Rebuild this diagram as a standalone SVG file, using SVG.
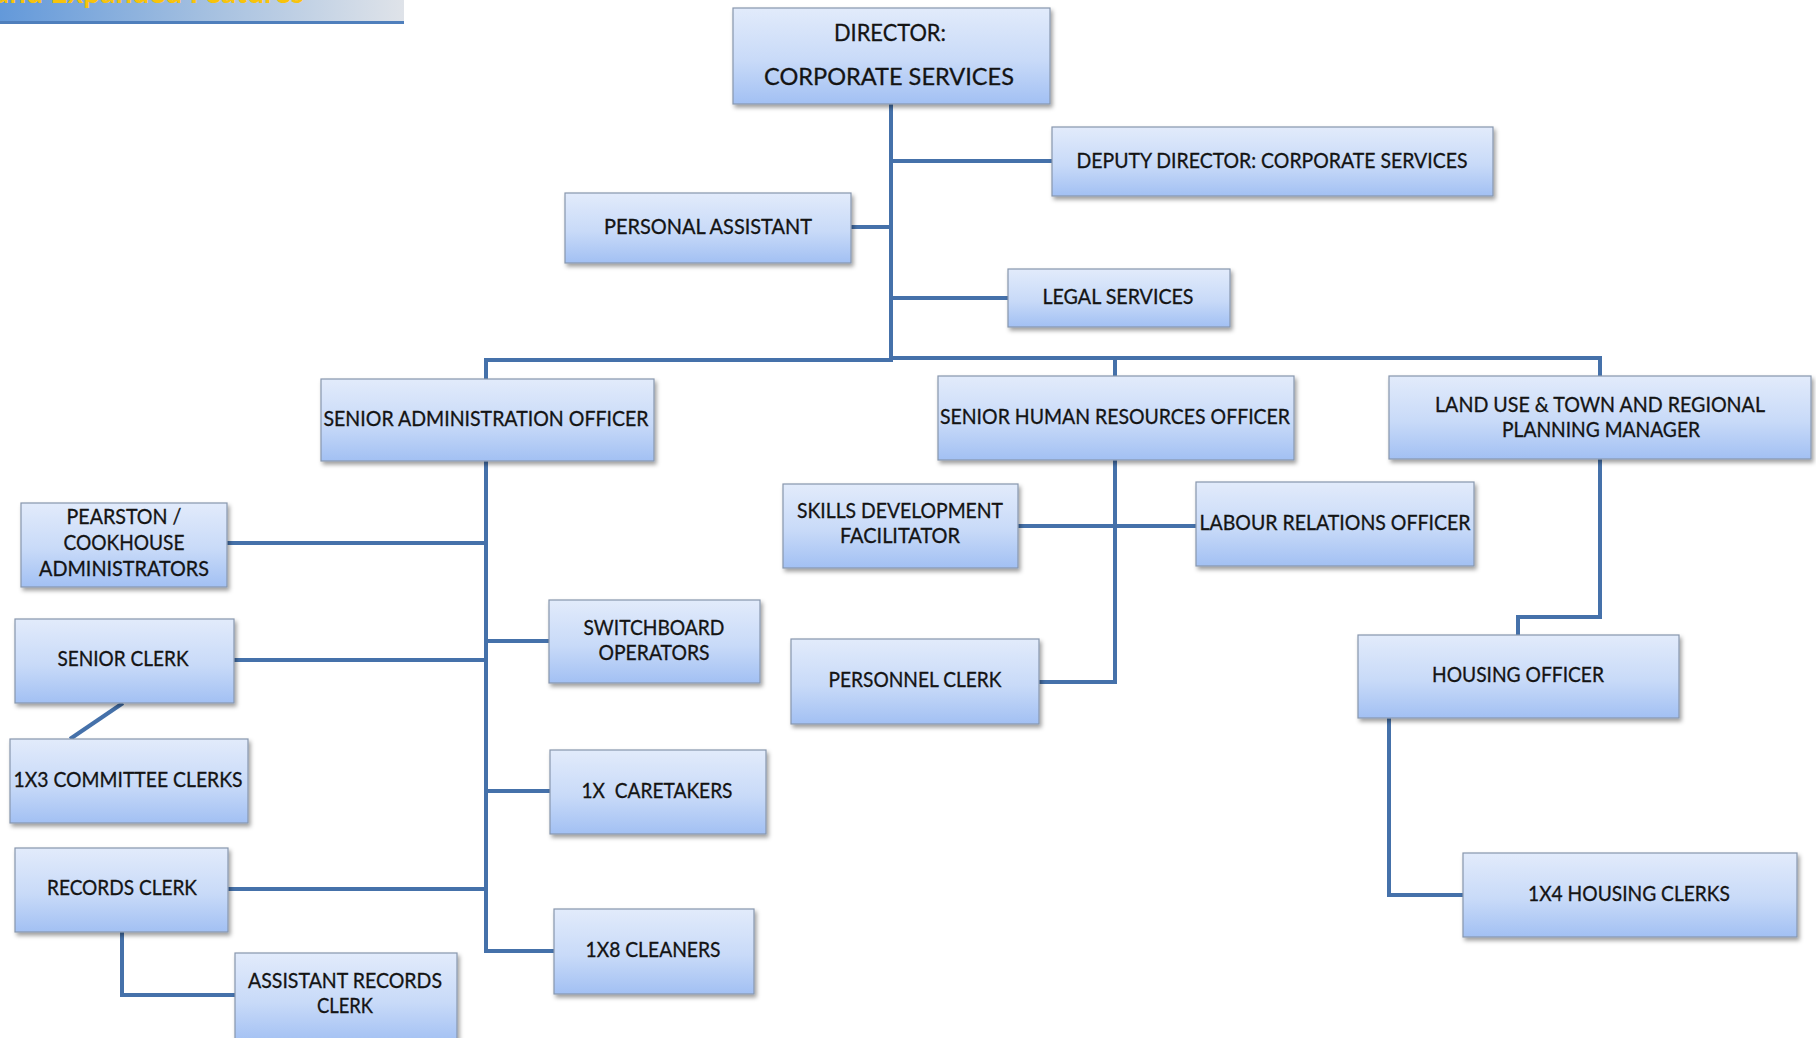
<svg xmlns="http://www.w3.org/2000/svg" width="1816" height="1038" viewBox="0 0 1816 1038">
  <defs>
    <linearGradient id="boxFill" x1="0" y1="0" x2="0" y2="1">
      <stop offset="0" stop-color="#e2ebfb"/>
      <stop offset="0.55" stop-color="#c8daf8"/>
      <stop offset="1" stop-color="#a2c0f3"/>
    </linearGradient>
    <linearGradient id="bannerFill" x1="0" y1="0" x2="1" y2="0">
      <stop offset="0" stop-color="#6399da"/>
      <stop offset="0.5" stop-color="#a3bfe0"/>
      <stop offset="1" stop-color="#dfe3e9"/>
    </linearGradient>
    <filter id="shadow" x="-10%" y="-10%" width="125%" height="130%">
      <feDropShadow dx="2" dy="3" stdDeviation="2.2" flood-color="#000" flood-opacity="0.38"/>
    </filter>
  </defs>
  <style>
    .box { fill: url(#boxFill); stroke: #8797ad; stroke-width: 1.2; filter: url(#shadow); }
    .lbl { font-family: Lato, "Open Sans", "Liberation Sans", sans-serif; font-size: 20.5px; fill: #141414; stroke: #141414; stroke-width: 0.3; text-anchor: middle; }
    .big { font-size: 24px; }
    .wire { fill: none; stroke: #4571aa; stroke-width: 4; stroke-linejoin: miter; stroke-linecap: butt; }
  </style>

  <rect width="1816" height="1038" fill="#ffffff"/>

  <!-- title banner strip, top left (heading text runs off the top edge) -->
  <g id="banner">
    <rect x="0" y="0" width="404" height="22" fill="url(#bannerFill)"/>
    <rect x="0" y="21" width="404" height="3" fill="#4f7fbc"/>
    <text x="-6" y="3" font-family="Lato, 'Open Sans', sans-serif" font-weight="700" font-size="30" fill="#f8c30c" textLength="310" lengthAdjust="spacingAndGlyphs">and Expanded Features</text>
  </g>

  <!-- connectors -->
  <g id="connectors">
    <path class="wire" d="M891,104 V360"/>
    <path class="wire" d="M891,161 H1052"/>
    <path class="wire" d="M851,227 H891"/>
    <path class="wire" d="M891,298 H1008"/>
    <path class="wire" d="M486,379 V360 H893"/>
    <path class="wire" d="M889,358 H1600 V376"/>
    <path class="wire" d="M1115,358 V376"/>
    <path class="wire" d="M486,461 V951 H554"/>
    <path class="wire" d="M227,543 H486"/>
    <path class="wire" d="M234,660 H486"/>
    <path class="wire" d="M486,641 H549"/>
    <path class="wire" d="M486,791 H550"/>
    <path class="wire" d="M228,889 H486"/>
    <path class="wire" d="M123,703 L70,739"/>
    <path class="wire" d="M122,932 V995 H235"/>
    <path class="wire" d="M1115,460 V682 H1039"/>
    <path class="wire" d="M1018,526 H1196"/>
    <path class="wire" d="M1600,459 V617 H1518 V635"/>
    <path class="wire" d="M1389,718 V895 H1463"/>
  </g>

  <!-- nodes -->
  <g id="director">
    <rect class="box" x="733" y="8" width="317" height="96"/>
    <text class="lbl big" x="890" y="41" textLength="112" lengthAdjust="spacingAndGlyphs">DIRECTOR:</text>
    <text class="lbl big" x="889" y="85" textLength="250" lengthAdjust="spacingAndGlyphs">CORPORATE SERVICES</text>
  </g>
  <g id="deputy-director">
    <rect class="box" x="1052" y="127" width="441" height="69"/>
    <text class="lbl" x="1272" y="168" textLength="391" lengthAdjust="spacingAndGlyphs">DEPUTY DIRECTOR: CORPORATE SERVICES</text>
  </g>
  <g id="personal-assistant">
    <rect class="box" x="565" y="193" width="286" height="70"/>
    <text class="lbl" x="708" y="234" textLength="208" lengthAdjust="spacingAndGlyphs">PERSONAL ASSISTANT</text>
  </g>
  <g id="legal-services">
    <rect class="box" x="1008" y="269" width="222" height="58"/>
    <text class="lbl" x="1118" y="304" textLength="151" lengthAdjust="spacingAndGlyphs">LEGAL SERVICES</text>
  </g>
  <g id="senior-admin-officer">
    <rect class="box" x="321" y="379" width="333" height="82"/>
    <text class="lbl" x="486" y="426" textLength="325" lengthAdjust="spacingAndGlyphs">SENIOR ADMINISTRATION OFFICER</text>
  </g>
  <g id="senior-hr-officer">
    <rect class="box" x="938" y="376" width="356" height="84"/>
    <text class="lbl" x="1115" y="424" textLength="350" lengthAdjust="spacingAndGlyphs">SENIOR HUMAN RESOURCES OFFICER</text>
  </g>
  <g id="land-use-manager">
    <rect class="box" x="1389" y="376" width="422" height="83"/>
    <text class="lbl" x="1600" y="412" textLength="330" lengthAdjust="spacingAndGlyphs">LAND USE &amp; TOWN AND REGIONAL</text>
    <text class="lbl" x="1601" y="437" textLength="198" lengthAdjust="spacingAndGlyphs">PLANNING MANAGER</text>
  </g>
  <g id="pearston-cookhouse">
    <rect class="box" x="21" y="503" width="206" height="84"/>
    <text class="lbl" x="124" y="524" textLength="115" lengthAdjust="spacingAndGlyphs">PEARSTON /</text>
    <text class="lbl" x="124" y="550" textLength="121" lengthAdjust="spacingAndGlyphs">COOKHOUSE</text>
    <text class="lbl" x="124" y="576" textLength="170" lengthAdjust="spacingAndGlyphs">ADMINISTRATORS</text>
  </g>
  <g id="senior-clerk">
    <rect class="box" x="15" y="619" width="219" height="84"/>
    <text class="lbl" x="123" y="666" textLength="131" lengthAdjust="spacingAndGlyphs">SENIOR CLERK</text>
  </g>
  <g id="committee-clerks">
    <rect class="box" x="10" y="739" width="238" height="84"/>
    <text class="lbl" x="128" y="787" textLength="229" lengthAdjust="spacingAndGlyphs">1X3 COMMITTEE CLERKS</text>
  </g>
  <g id="records-clerk">
    <rect class="box" x="15" y="848" width="213" height="84"/>
    <text class="lbl" x="122" y="895" textLength="150" lengthAdjust="spacingAndGlyphs">RECORDS CLERK</text>
  </g>
  <g id="assistant-records-clerk">
    <rect class="box" x="235" y="953" width="222" height="90"/>
    <text class="lbl" x="345" y="988" textLength="194" lengthAdjust="spacingAndGlyphs">ASSISTANT RECORDS</text>
    <text class="lbl" x="345" y="1013" textLength="56" lengthAdjust="spacingAndGlyphs">CLERK</text>
  </g>
  <g id="switchboard-operators">
    <rect class="box" x="549" y="600" width="211" height="83"/>
    <text class="lbl" x="654" y="635" textLength="141" lengthAdjust="spacingAndGlyphs">SWITCHBOARD</text>
    <text class="lbl" x="654" y="660" textLength="111" lengthAdjust="spacingAndGlyphs">OPERATORS</text>
  </g>
  <g id="caretakers">
    <rect class="box" x="550" y="750" width="216" height="84"/>
    <text class="lbl" x="657" y="798" textLength="151" lengthAdjust="spacingAndGlyphs" xml:space="preserve">1X  CARETAKERS</text>
  </g>
  <g id="cleaners">
    <rect class="box" x="554" y="909" width="200" height="85"/>
    <text class="lbl" x="653" y="957" textLength="135" lengthAdjust="spacingAndGlyphs">1X8 CLEANERS</text>
  </g>
  <g id="skills-development">
    <rect class="box" x="783" y="484" width="235" height="84"/>
    <text class="lbl" x="900" y="518" textLength="206" lengthAdjust="spacingAndGlyphs">SKILLS DEVELOPMENT</text>
    <text class="lbl" x="900" y="543" textLength="120" lengthAdjust="spacingAndGlyphs">FACILITATOR</text>
  </g>
  <g id="labour-relations">
    <rect class="box" x="1196" y="482" width="278" height="84"/>
    <text class="lbl" x="1335" y="530" textLength="271" lengthAdjust="spacingAndGlyphs">LABOUR RELATIONS OFFICER</text>
  </g>
  <g id="personnel-clerk">
    <rect class="box" x="791" y="639" width="248" height="85"/>
    <text class="lbl" x="915" y="687" textLength="173" lengthAdjust="spacingAndGlyphs">PERSONNEL CLERK</text>
  </g>
  <g id="housing-officer">
    <rect class="box" x="1358" y="635" width="321" height="83"/>
    <text class="lbl" x="1518" y="682" textLength="172" lengthAdjust="spacingAndGlyphs">HOUSING OFFICER</text>
  </g>
  <g id="housing-clerks">
    <rect class="box" x="1463" y="853" width="334" height="84"/>
    <text class="lbl" x="1629" y="901" textLength="202" lengthAdjust="spacingAndGlyphs">1X4 HOUSING CLERKS</text>
  </g>
</svg>
